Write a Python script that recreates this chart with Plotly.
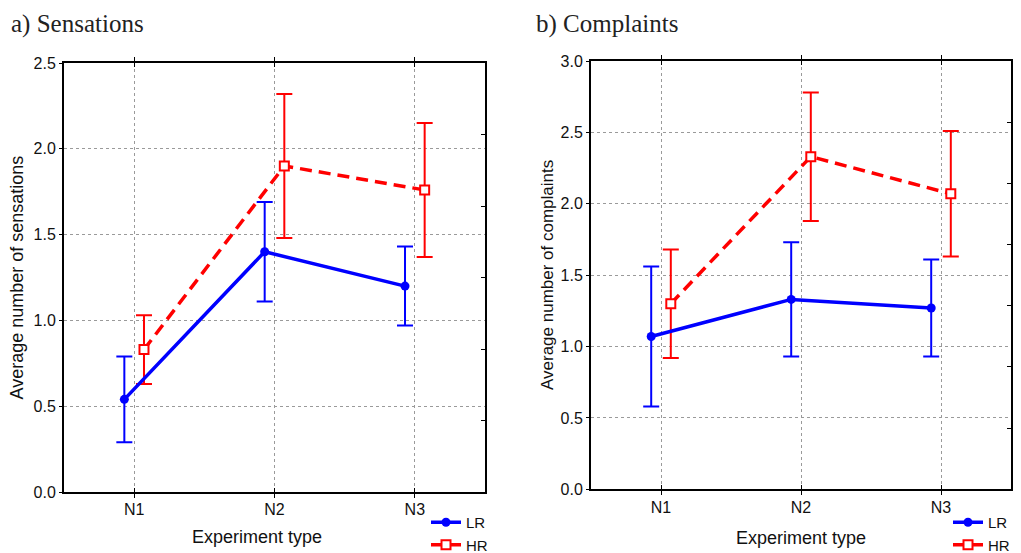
import plotly.graph_objects as go

# ---------------- data ----------------
categories = ["N1", "N2", "N3"]

sens_lr = [0.54, 1.40, 1.20]
sens_lr_err = [0.25, 0.29, 0.23]
sens_hr = [0.83, 1.90, 1.76]
sens_hr_err = [0.20, 0.42, 0.39]

comp_lr = [1.07, 1.33, 1.27]
comp_lr_err = [0.49, 0.40, 0.34]
comp_hr = [1.30, 2.33, 2.07]
comp_hr_err = [0.38, 0.45, 0.44]

series_names = ["LR", "HR"]
panel_titles = ["a) Sensations", "b) Complaints"]
y_titles = ["Average number of sensations", "Average number of complaints"]
x_title = "Experiment type"
y_max = [2.5, 3.0]
right_minor_div = [6, 7]

# ---------------- style ----------------
PAGE_W, PAGE_H = 1021, 553
BODY = 8  # default page body margin
W, H = PAGE_W - 2 * BODY, PAGE_H - BODY
BLUE = "#0000FF"
RED = "#FF0000"
SANS = "Liberation Sans, Arial, Helvetica, sans-serif"
SERIF = "Liberation Serif, Times New Roman, serif"
OFF = 0.07


def px(x):
    return (x - BODY) / W


def py(y):
    return 1 - (y - BODY) / H


fig = go.Figure()

panels = [
    dict(xa="x", ya="y", lr=sens_lr, lre=sens_lr_err, hr=sens_hr, hre=sens_hr_err, legend="legend"),
    dict(xa="x2", ya="y2", lr=comp_lr, lre=comp_lr_err, hr=comp_hr, hre=comp_hr_err, legend="legend2"),
]

pos = list(range(len(categories)))
for p in panels:
    fig.add_trace(go.Scatter(
        x=[i + OFF for i in pos], y=p["hr"], name=series_names[1],
        xaxis=p["xa"], yaxis=p["ya"], legend=p["legend"], legendrank=2,
        mode="lines+markers",
        line=dict(color=RED, width=3.5, dash="12px,7px"),
        marker=dict(symbol="square", size=9, color="white", line=dict(color=RED, width=2)),
        error_y=dict(type="data", array=p["hre"], color=RED, thickness=2, width=8),
    ))
    fig.add_trace(go.Scatter(
        x=[i - OFF for i in pos], y=p["lr"], name=series_names[0],
        xaxis=p["xa"], yaxis=p["ya"], legend=p["legend"], legendrank=1,
        mode="lines+markers",
        line=dict(color=BLUE, width=3.5),
        marker=dict(symbol="circle", size=9, color=BLUE),
        error_y=dict(type="data", array=p["lre"], color=BLUE, thickness=2, width=8),
    ))

# invisible traces for right-side minor tick axes
fig.add_trace(go.Scatter(x=[None], y=[None], xaxis="x", yaxis="y3", showlegend=False, hoverinfo="skip"))
fig.add_trace(go.Scatter(x=[None], y=[None], xaxis="x2", yaxis="y4", showlegend=False, hoverinfo="skip"))

xcommon = dict(
    range=[-0.5, len(categories) - 0.5], tickvals=pos, ticktext=categories,
    showgrid=True, gridcolor="#9a9a9a", griddash="dot", gridwidth=1,
    showline=True, linecolor="black", linewidth=2, mirror="allticks",
    ticks="inside", ticklen=4, tickcolor="black", zeroline=False,
    ticklabelstandoff=2,
    tickfont=dict(family=SANS, size=16, color="#111"),
)


def ycommon(m):
    return dict(
        range=[0, m], dtick=0.5, tickformat=".1f",
        showgrid=True, gridcolor="#9a9a9a", griddash="dot", gridwidth=1,
        showline=True, linecolor="black", linewidth=2, mirror=True,
        ticks="outside", ticklen=3, tickcolor="black", zeroline=False,
        tickfont=dict(family=SANS, size=16, color="#111"),
    )


def yminor(m, n, over, anchor):
    return dict(
        overlaying=over, anchor=anchor, side="right", range=[0, m],
        tickvals=[m * k / n for k in range(1, n)], ticks="inside", ticklen=4,
        tickcolor="black", showticklabels=False, showgrid=False, showline=False,
        zeroline=False,
    )


legend_common = dict(xanchor="left", yanchor="top", bgcolor="rgba(0,0,0,0)",
                     font=dict(family=SANS, size=15, color="#111"),
                     itemwidth=30, tracegroupgap=0)

fig.update_layout(
    width=W, height=H,
    margin=dict(l=0, r=0, t=0, b=0, autoexpand=False),
    paper_bgcolor="white", plot_bgcolor="white",
    xaxis=dict(domain=[px(64), px(485)], anchor="y", **xcommon),
    yaxis=dict(domain=[py(492), py(63)], anchor="x", **ycommon(y_max[0])),
    xaxis2=dict(domain=[px(591), px(1011)], anchor="y2", **xcommon),
    yaxis2=dict(domain=[py(489.3), py(61)], anchor="x2", **ycommon(y_max[1])),
    yaxis3=yminor(y_max[0], right_minor_div[0], "y", "x"),
    yaxis4=yminor(y_max[1], right_minor_div[1], "y2", "x2"),
    legend=dict(x=px(426), y=py(506), **legend_common),
    legend2=dict(x=px(948), y=py(506), **legend_common),
    showlegend=True,
)

annotations = [
    dict(text=panel_titles[0], x=px(9), y=py(24), xanchor="left", yanchor="middle",
         font=dict(family=SERIF, size=25, color="#222")),
    dict(text=panel_titles[1], x=px(534), y=py(24), xanchor="left", yanchor="middle",
         font=dict(family=SERIF, size=25, color="#222")),
    dict(text=x_title, x=px(257), y=py(537), xanchor="center", yanchor="middle",
         font=dict(family=SANS, size=18, color="#111")),
    dict(text=x_title, x=px(801), y=py(538), xanchor="center", yanchor="middle",
         font=dict(family=SANS, size=18, color="#111")),
    dict(text=y_titles[0], x=px(17), y=py(277.5), xanchor="center", yanchor="middle",
         textangle=-90, font=dict(family=SANS, size=18, color="#111")),
    dict(text=y_titles[1], x=px(547), y=py(275), xanchor="center", yanchor="middle",
         textangle=-90, font=dict(family=SANS, size=17, color="#111")),
]
for a in annotations:
    a.update(xref="paper", yref="paper", showarrow=False)
fig.update_layout(annotations=annotations)

fig.write_html("out.html")
